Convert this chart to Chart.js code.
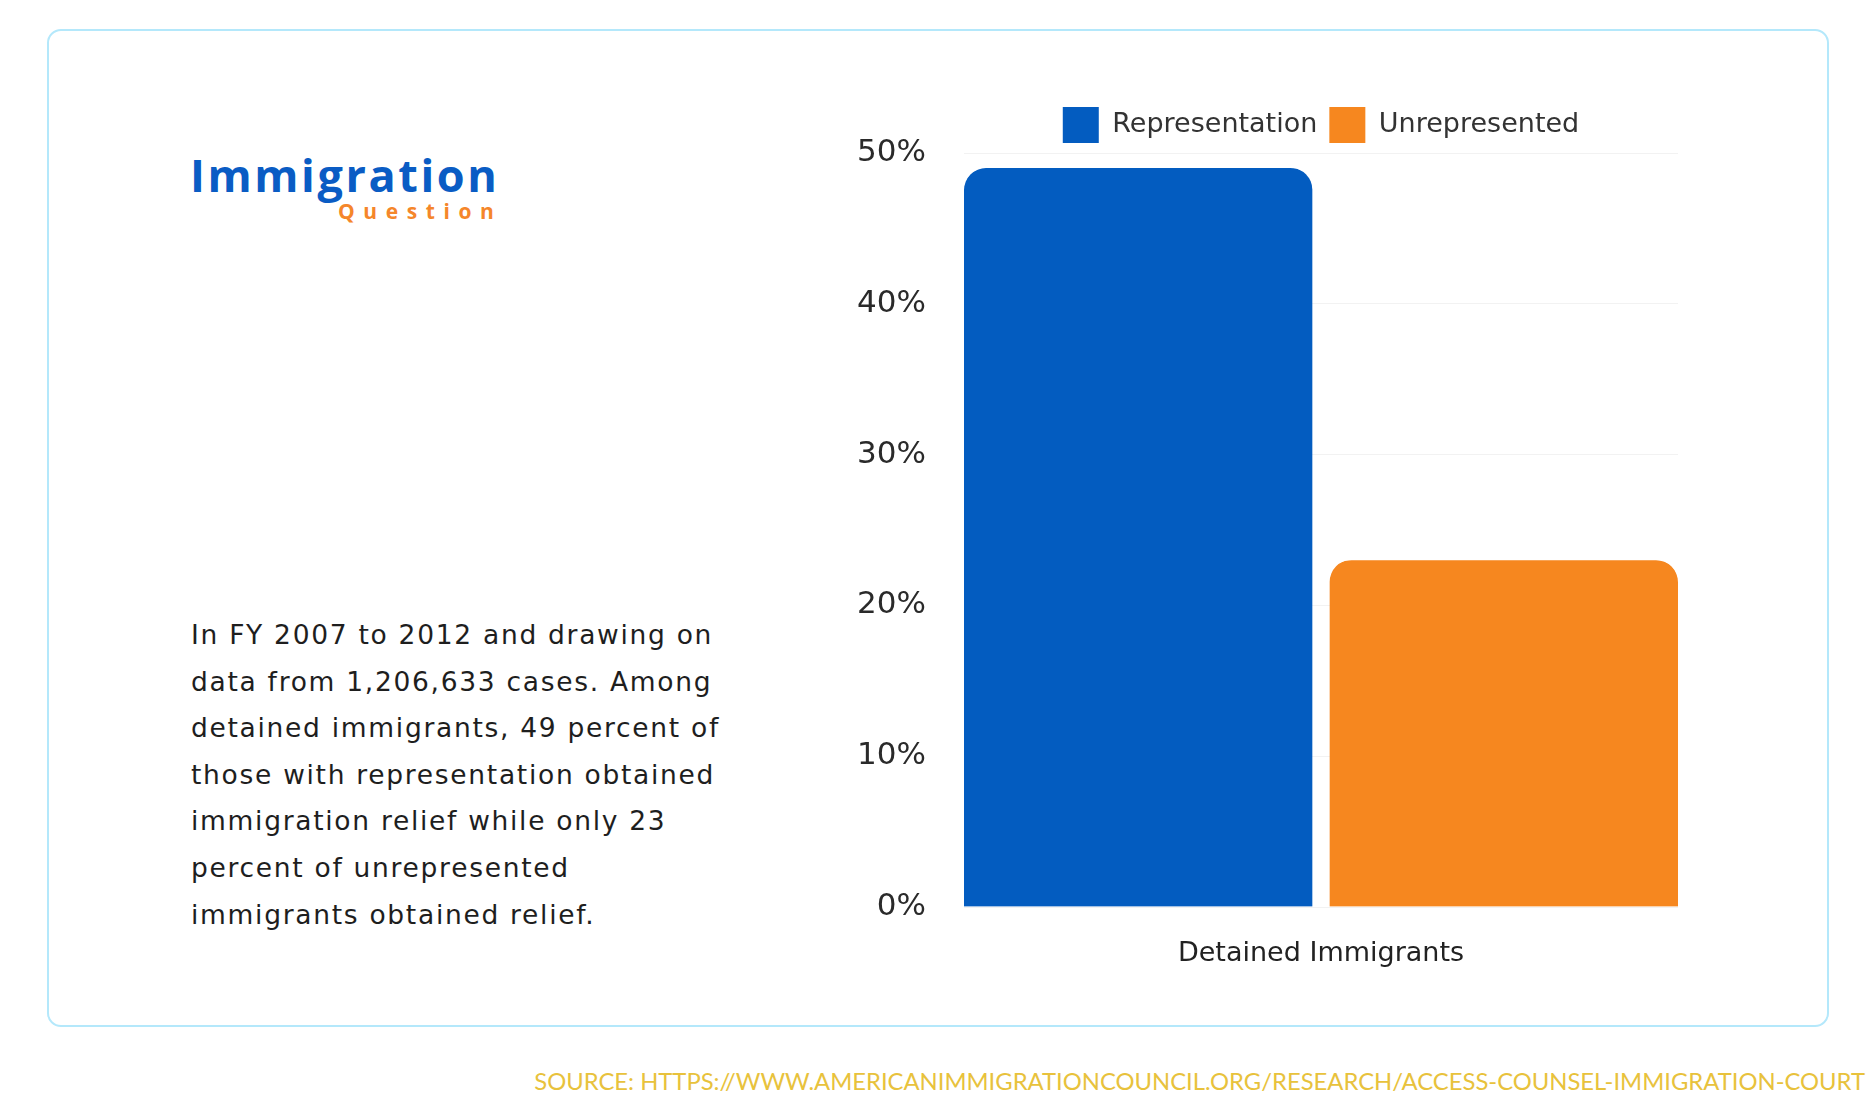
<!DOCTYPE html>
<html>
<head>
<meta charset="utf-8">
<script src="https://cdn.jsdelivr.net/npm/chart.js@4.4.0/dist/chart.umd.min.js"></script>
<style>
  body { margin: 0; width: 1873px; height: 1094px; background: #fff; position: relative; overflow: hidden; }
  .card { position: absolute; left: 47px; top: 29px; width: 1778px; height: 994px;
          border: 2px solid #b4e8fb; border-radius: 14px; }
  .logo { position: absolute; left: 190px; top: 150px; font-family: "Open Sans", sans-serif; }
  .logo .main { font-size: 45px; font-weight: 700; color: #0a5cc4; letter-spacing: 2.6px; line-height: 50px; }
  .logo .sub { position: absolute; left: 148px; top: 50px; font-size: 21px; font-weight: 700;
               color: #f5862a; letter-spacing: 8.6px; line-height: 22px; }
  .blurb { position: absolute; left: 191px; top: 612px; font-family: "DejaVu Sans", sans-serif;
           font-size: 26.5px; letter-spacing: 1.7px; line-height: 46.6px; color: #1e1e1e; white-space: nowrap; }
  .source { position: absolute; right: 8px; top: 1067px; font-family: "Lato", sans-serif;
            font-weight: 400; font-size: 23.8px; color: #e8c23c; white-space: nowrap; }
  #wrap { position: absolute; left: 850px; top: 95px; width: 828px; height: 892px; }
</style>
</head>
<body>
<div class="card"></div>
<div class="logo">
  <div class="main">Immigration</div>
  <div class="sub">Question</div>
</div>
<div class="blurb">
  In FY 2007 to 2012 and drawing on<br>
  data from 1,206,633 cases. Among<br>
  detained immigrants, 49 percent of<br>
  those with representation obtained<br>
  immigration relief while only 23<br>
  percent of unrepresented<br>
  immigrants obtained relief.
</div>
<div class="source">SOURCE: HTTPS://WWW.AMERICANIMMIGRATIONCOUNCIL.ORG/RESEARCH/ACCESS-COUNSEL-IMMIGRATION-COURT</div>
<div id="wrap"><canvas id="chart"></canvas></div>

<script>
const categories = ['Detained Immigrants'];
const seriesNames = ['Representation', 'Unrepresented'];
const representation = [49];
const unrepresented = [23];
const seriesColors = ['#035cc0', '#f6871f'];

// transparent inner border pushes the two bars apart without moving them off the grid edges
new Chart(document.getElementById('chart'), {
    type: 'bar',
    data: {
        labels: categories,
        datasets: [
            {
                label: seriesNames[0],
                data: representation,
                backgroundColor: seriesColors[0],
                borderColor: 'rgba(0,0,0,0)',
                borderWidth: { left: 0, right: 9, top: 0, bottom: 0 },
                borderRadius: { topLeft: 22, topRight: 31 }
            },
            {
                label: seriesNames[1],
                data: unrepresented,
                backgroundColor: seriesColors[1],
                borderColor: 'rgba(0,0,0,0)',
                borderWidth: { left: 9, right: 0, top: 0, bottom: 0 },
                borderRadius: { topLeft: 31, topRight: 22 }
            }
        ]
    },
    options: {
        responsive: true,
        maintainAspectRatio: false,
        animation: false,
        layout: { padding: 0 },
        datasets: {
            bar: {
                categoryPercentage: 1.0,
                barPercentage: 1.0,
                borderSkipped: 'bottom'
            }
        },
        plugins: {
            legend: {
                position: 'top',
                fullSize: false,
                labels: {
                    boxWidth: 36,
                    boxHeight: 36,
                    padding: 12,
                    color: '#333',
                    font: { family: 'DejaVu Sans', size: 27 },
                    generateLabels: (chart) => chart.data.datasets.map((ds, i) => ({
                        text: ds.label,
                        fillStyle: ds.backgroundColor,
                        strokeStyle: ds.backgroundColor,
                        lineWidth: 0,
                        fontColor: '#333',
                        hidden: false,
                        datasetIndex: i
                    }))
                }
            },
            tooltip: { enabled: false }
        },
        scales: {
            x: {
                grid: { display: false },
                border: { display: false },
                ticks: { color: '#222', padding: 23, font: { family: 'DejaVu Sans', size: 27 } },
                afterFit: (axis) => { axis.height = 80; }
            },
            y: {
                min: 0,
                max: 50,
                grid: { color: '#f2f2f2', drawTicks: false },
                border: { display: false },
                ticks: {
                    stepSize: 10,
                    padding: 38,
                    color: '#2a2a2a',
                    font: { family: 'DejaVu Sans', size: 31 },
                    callback: (v) => v + '%'
                },
                afterFit: (axis) => { axis.width = 114; }
            }
        }
    }
});
</script>
</body>
</html>
